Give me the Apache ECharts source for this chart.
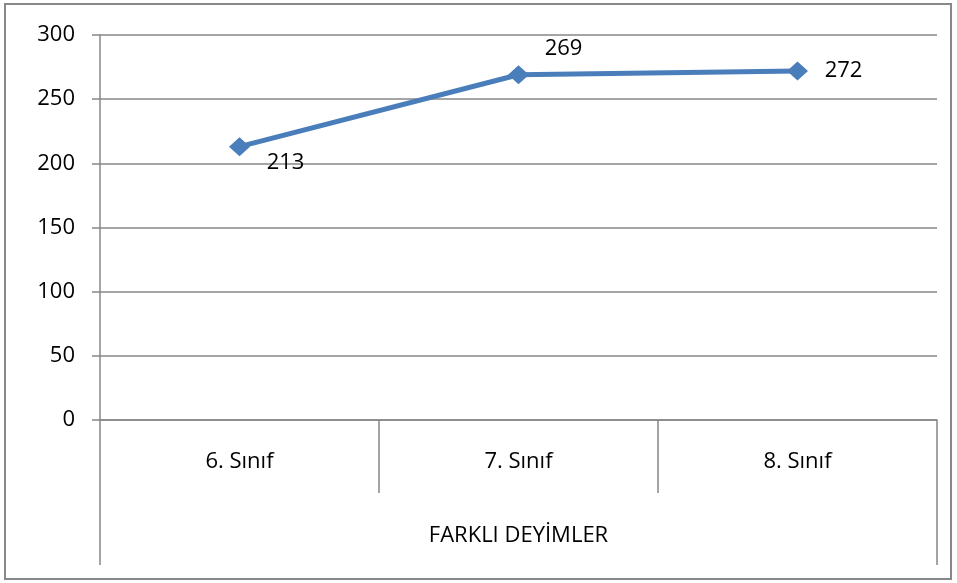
<!DOCTYPE html>
<html>
<head>
<meta charset="utf-8">
<script src="https://cdn.jsdelivr.net/npm/echarts@6/dist/echarts.min.js"></script>
<style>
  html, body { margin: 0; padding: 0; background: #fff; }
  #chart { width: 957px; height: 583px; }
</style>
</head>
<body>
<div id="chart"></div>
<script>
// veriler
var categories = ['6. Sınıf', '7. Sınıf', '8. Sınıf'];
var groupLabel = ['FARKLI DEYİMLER'];
var values = [213, 269, 272];

var FONT = '"Open Sans", sans-serif';
var FONT_SIZE = 22;
var GRID_COLOR = '#878787';
// etiketlerin noktaya göre kaydırılması (Excel'deki elle taşınmış etiketler)
var labelOffsets = [[46, 16], [45, -26], [46, 0]];

var chart = echarts.init(document.getElementById('chart'));

chart.setOption({
    animation: false,
    textStyle: { fontFamily: FONT },
    grid: { left: 100, right: 20, top: 35, bottom: 163 },
    graphic: [{
        type: 'rect',
        shape: { x: 5, y: 4, width: 946, height: 575 },
        style: { fill: 'none', stroke: '#888', lineWidth: 2 },
        silent: true
    }],
    xAxis: [{
        type: 'category',
        data: categories,
        boundaryGap: true,
        axisLine: { show: true, lineStyle: { color: GRID_COLOR, width: 1.5 } },
        axisTick: { show: true, interval: 0, length: 73, lineStyle: { color: GRID_COLOR, width: 1.5 } },
        axisLabel: { margin: 31, fontSize: FONT_SIZE, color: '#000', fontFamily: FONT }
    }, {
        type: 'category',
        data: groupLabel,
        position: 'bottom',
        boundaryGap: true,
        axisLine: { show: false },
        axisTick: { show: true, interval: 0, length: 145, lineStyle: { color: GRID_COLOR, width: 1.5 } },
        axisLabel: { margin: 105, fontSize: FONT_SIZE, color: '#000', fontFamily: FONT }
    }],
    yAxis: {
        type: 'value',
        min: 0,
        max: 300,
        interval: 50,
        axisLine: { show: true, lineStyle: { color: GRID_COLOR, width: 1.5 } },
        axisTick: { show: true, length: 8, lineStyle: { color: GRID_COLOR, width: 1.5 } },
        axisLabel: { margin: 25, fontSize: FONT_SIZE, color: '#000', fontFamily: FONT },
        splitLine: { lineStyle: { color: GRID_COLOR, width: 1.5 } }
    },
    series: [{
        type: 'line',
        xAxisIndex: 0,
        data: values.map(function (v, i) {
            return {
                value: v,
                label: { offset: labelOffsets[i] }
            };
        }),
        symbol: 'diamond',
        symbolSize: [21, 19],
        lineStyle: { color: '#4a7ebb', width: 5 },
        itemStyle: { color: '#4a7ebb' },
        label: {
            show: true,
            position: 'inside',
            fontSize: FONT_SIZE,
            color: '#000',
            fontFamily: FONT
        }
    }]
});
</script>
</body>
</html>
